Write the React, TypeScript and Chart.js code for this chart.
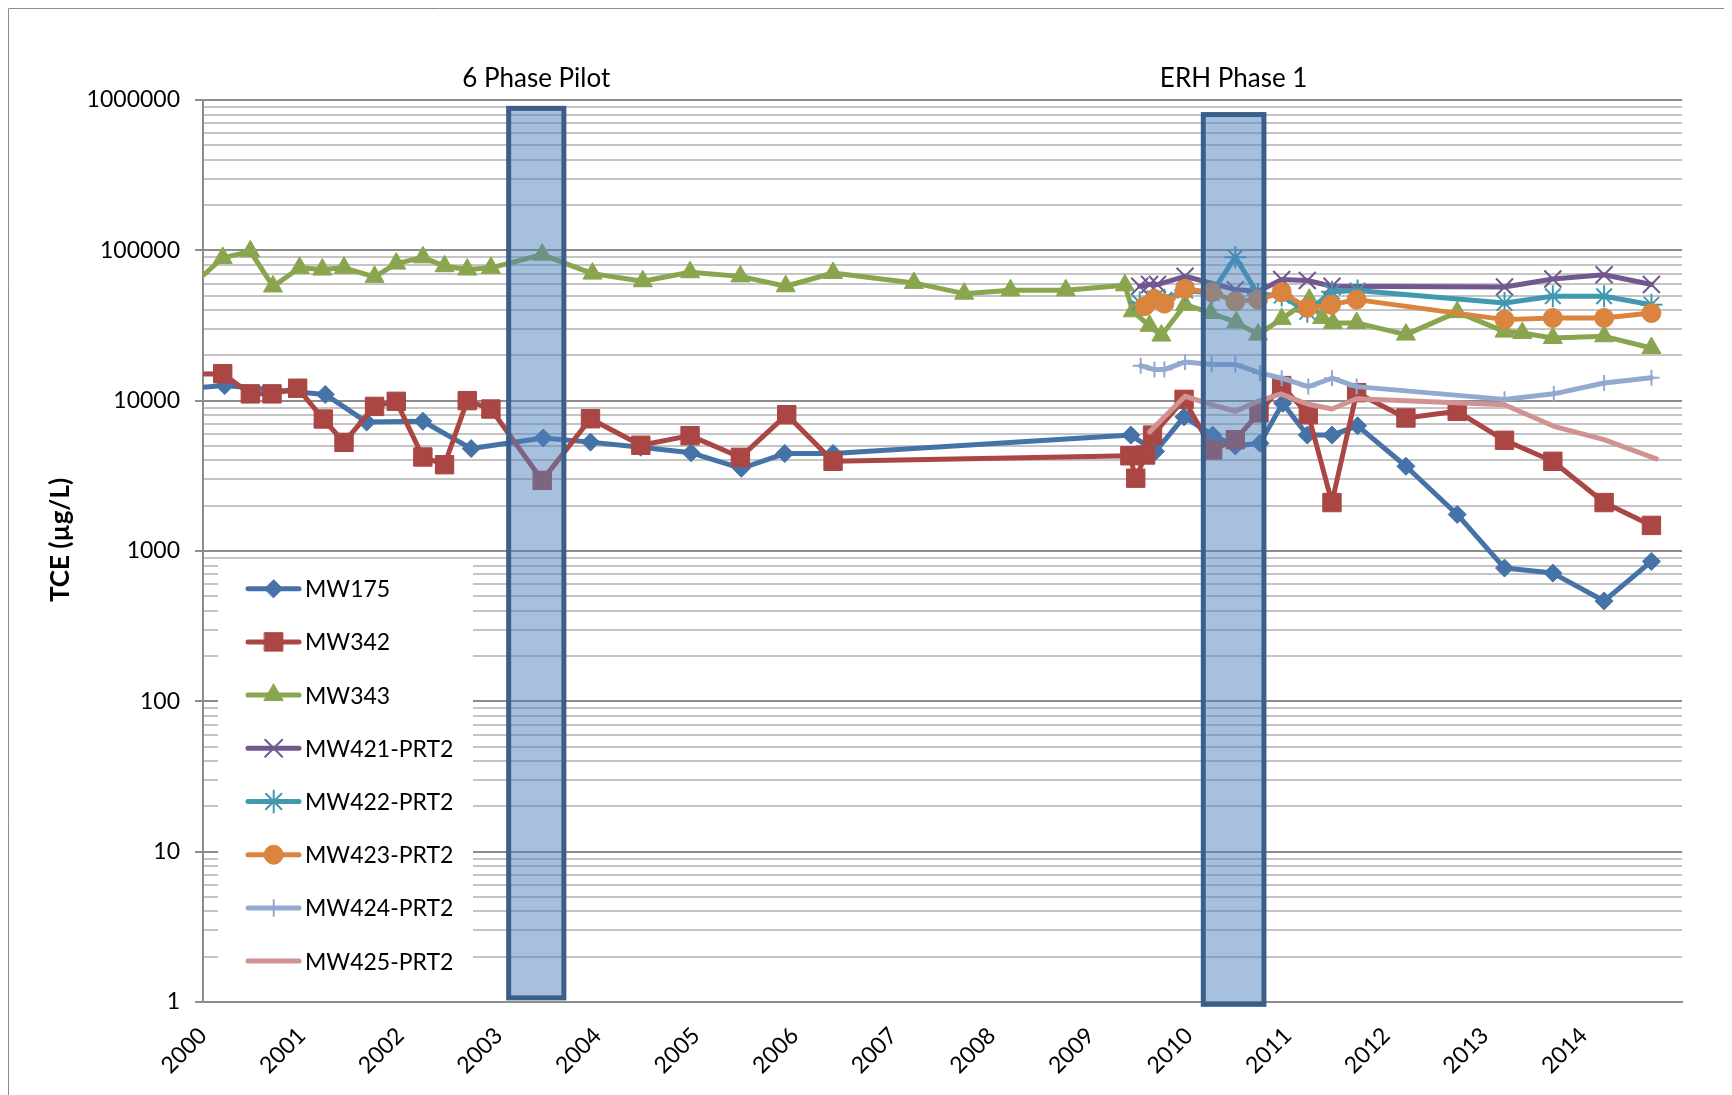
import React, { useEffect, useRef } from 'react';
import { Chart, registerables } from 'chart.js';
import { drawPoint } from 'chart.js/helpers';

Chart.register(...registerables);

// ---------- DATA ----------
const SERIES_NAMES = ['MW175', 'MW342', 'MW343', 'MW421-PRT2', 'MW422-PRT2', 'MW423-PRT2', 'MW424-PRT2', 'MW425-PRT2'];

const MW175_DATES = [1999.8, 2000.22, 2001.24, 2001.66, 2002.23, 2002.72, 2003.45, 2003.93, 2004.44, 2004.95, 2005.46, 2005.9, 2006.39, 2009.41, 2009.66, 2009.95, 2010.24, 2010.47, 2010.72, 2010.95, 2011.2, 2011.45, 2011.71, 2012.2, 2012.72, 2013.2, 2013.69, 2014.21, 2014.69];
const MW175_VALUES = [12000, 12600, 11000, 7200, 7300, 4800, 5650, 5300, 4900, 4500, 3550, 4450, 4450, 5900, 4600, 7800, 5900, 5000, 5200, 9600, 5900, 5900, 6800, 3660, 1750, 770, 713, 465, 853];

const MW342_DATES = [1999.8, 2000.2, 2000.48, 2000.7, 2000.96, 2001.22, 2001.43, 2001.74, 2001.96, 2002.23, 2002.45, 2002.68, 2002.92, 2003.44, 2003.93, 2004.44, 2004.94, 2005.45, 2005.92, 2006.39, 2009.4, 2009.46, 2009.56, 2009.63, 2009.95, 2010.24, 2010.47, 2010.71, 2010.94, 2011.21, 2011.45, 2011.7, 2012.2, 2012.72, 2013.2, 2013.69, 2014.21, 2014.69];
const MW342_VALUES = [15000, 15100, 11100, 11100, 12100, 7550, 5280, 9160, 9900, 4220, 3750, 10000, 8800, 2950, 7580, 5050, 5850, 4200, 8070, 3950, 4300, 3050, 4350, 5900, 10200, 4700, 5500, 8300, 12600, 8070, 2100, 11300, 7670, 8490, 5450, 3950, 2100, 1480];

const MW343_DATES = [1999.8, 2000.2, 2000.48, 2000.71, 2000.98, 2001.21, 2001.43, 2001.74, 2001.96, 2002.23, 2002.45, 2002.68, 2002.92, 2003.44, 2003.95, 2004.46, 2004.94, 2005.45, 2005.91, 2006.39, 2007.21, 2007.72, 2008.19, 2008.75, 2009.35, 2009.43, 2009.6, 2009.72, 2009.96, 2010.22, 2010.48, 2010.7, 2010.94, 2011.22, 2011.35, 2011.46, 2011.7, 2012.2, 2012.72, 2013.2, 2013.38, 2013.69, 2014.21, 2014.69];
const MW343_VALUES = [52000, 89000, 98500, 57500, 76500, 74500, 76500, 66600, 81600, 89800, 78400, 74500, 76500, 93600, 70000, 62300, 71500, 67100, 57700, 70700, 60700, 51500, 54200, 54200, 58500, 39300, 31500, 27100, 43500, 38300, 33200, 27500, 35000, 47000, 35500, 32900, 32900, 27500, 38800, 28800, 28200, 26100, 26800, 22400];

const MW421_DATES = [2009.5, 2009.6, 2009.68, 2009.96, 2010.47, 2010.7, 2010.94, 2011.2, 2011.45, 2013.2, 2013.69, 2014.21, 2014.69];
const MW421_VALUES = [57700, 59200, 59200, 67200, 54800, 53300, 64000, 63000, 57700, 57000, 64400, 68800, 59200];

const MW422_DATES = [2009.5, 2009.65, 2009.75, 2009.96, 2010.23, 2010.47, 2010.7, 2010.94, 2011.2, 2011.45, 2011.71, 2013.2, 2013.69, 2014.21, 2014.69];
const MW422_VALUES = [45000, 48000, 47000, 54000, 52000, 90000, 51000, 50000, 39000, 53000, 54000, 44700, 49500, 49500, 43500];

const MW423_DATES = [2009.55, 2009.65, 2009.75, 2009.96, 2010.23, 2010.47, 2010.7, 2010.94, 2011.2, 2011.44, 2011.7, 2013.2, 2013.69, 2014.21, 2014.69];
const MW423_VALUES = [42500, 47500, 44200, 55300, 52600, 45800, 47000, 52600, 41400, 43500, 47000, 34600, 35500, 35500, 38300];

const MW424_DATES = [2009.51, 2009.65, 2009.75, 2009.96, 2010.23, 2010.47, 2010.72, 2010.94, 2011.21, 2011.45, 2011.7, 2013.2, 2013.7, 2014.21, 2014.69];
const MW424_VALUES = [17100, 16100, 16100, 18100, 17400, 17400, 15300, 14100, 12400, 14100, 12400, 10200, 11100, 13100, 14200];

const MW425_DATES = [2009.6, 2009.96, 2010.23, 2010.47, 2010.7, 2010.93, 2011.2, 2011.45, 2011.7, 2013.2, 2013.7, 2014.21, 2014.74];
const MW425_VALUES = [6200, 10700, 9400, 8500, 9900, 11100, 9500, 8800, 10300, 9400, 6750, 5500, 4100];

const SERIES_DATES = [MW175_DATES, MW342_DATES, MW343_DATES, MW421_DATES, MW422_DATES, MW423_DATES, MW424_DATES, MW425_DATES];
const SERIES_VALUES = [MW175_VALUES, MW342_VALUES, MW343_VALUES, MW421_VALUES, MW422_VALUES, MW423_VALUES, MW424_VALUES, MW425_VALUES];

const X_TICK_LABELS = ['2000', '2001', '2002', '2003', '2004', '2005', '2006', '2007', '2008', '2009', '2010', '2011', '2012', '2013', '2014'];
const Y_TICK_LABELS = ['1', '10', '100', '1000', '10000', '100000', '1000000'];

const PHASE_LABELS = ['6 Phase Pilot', 'ERH Phase 1'];
const PHASE_START = [2003.1, 2010.145];
const PHASE_END = [2003.66, 2010.76];
const PHASE_TOP = [880000, 800000];
const PHASE_BOTTOM = [1.065, 0.965];

const Y_TITLE = 'TCE (µg/L)';

// ---------- STYLES ----------
const SERIES_COLORS = ['#4572A7', '#AA4643', '#89A54E', '#71588F', '#4198AF', '#DB843D', '#93A9CF', '#D19392'];
const SERIES_MARKERS: (string | false)[] = ['rectRot', 'rect', 'triangle', 'crossRot', 'star', 'circle', 'cross', false];
const MARKER_RADII = [9, 13, 11, 12, 11, 9.5, 8, 0];
const MARKER_BORDER = [1, 1, 1, 2, 2, 1, 2, 0];
const FONT = 'Lato, "Open Sans", sans-serif';

const W = 1724;
const H = 1087;

const isDecade = (v: number) => {
  const l = Math.log10(v);
  return Math.abs(l - Math.round(l)) < 1e-9;
};

const overlayPlugin = {
  id: 'overlay',
  afterDatasetsDraw(chart: any) {
    const { ctx, chartArea } = chart;
    const xs = chart.scales.x;
    const ys = chart.scales.y;
    ctx.save();
    // phase rectangles
    for (let i = 0; i < PHASE_LABELS.length; i++) {
      const x0 = xs.getPixelForValue(PHASE_START[i]);
      const x1 = xs.getPixelForValue(PHASE_END[i]);
      const y0 = ys.getPixelForValue(PHASE_TOP[i]);
      const y1 = ys.getPixelForValue(PHASE_BOTTOM[i]);
      ctx.fillStyle = 'rgba(79,129,189,0.5)';
      ctx.fillRect(x0, y0, x1 - x0, y1 - y0);
      ctx.strokeStyle = '#3A5F8B';
      ctx.lineWidth = 5;
      ctx.strokeRect(x0, y0, x1 - x0, y1 - y0);
      ctx.fillStyle = '#000';
      ctx.font = `26px ${FONT}`;
      ctx.textAlign = 'center';
      ctx.textBaseline = 'middle';
      ctx.fillText(PHASE_LABELS[i], (x0 + x1) / 2, chartArea.top - 21);
    }
    // legend
    const lx0 = 210, lx1 = 465, ly0 = 553, ly1 = 987;
    ctx.fillStyle = '#fff';
    ctx.fillRect(lx0, ly0, lx1 - lx0, ly1 - ly0);
    for (let i = 0; i < SERIES_NAMES.length; i++) {
      const cy = 580.7 + 53.2 * i;
      const color = SERIES_COLORS[i];
      ctx.strokeStyle = color;
      ctx.lineWidth = 5;
      ctx.lineCap = 'round';
      ctx.beginPath();
      ctx.moveTo(240, cy);
      ctx.lineTo(291, cy);
      ctx.stroke();
      const ps = SERIES_MARKERS[i];
      if (ps) {
        ctx.fillStyle = color;
        ctx.strokeStyle = color;
        ctx.lineWidth = MARKER_BORDER[i];
        drawPoint(ctx, { pointStyle: ps, radius: MARKER_RADII[i], rotation: 0, borderWidth: MARKER_BORDER[i] }, 265.7, cy);
      }
      ctx.fillStyle = '#000';
      ctx.font = `23px ${FONT}`;
      ctx.textAlign = 'left';
      ctx.textBaseline = 'middle';
      ctx.fillText(SERIES_NAMES[i], 297, cy + 1);
    }
    // y axis title
    ctx.save();
    ctx.translate(53, 532);
    ctx.rotate(-Math.PI / 2);
    ctx.fillStyle = '#000';
    ctx.font = `bold 26px ${FONT}`;
    ctx.textAlign = 'center';
    ctx.textBaseline = 'middle';
    ctx.fillText(Y_TITLE, 0, 0);
    ctx.restore();
    // outer chart border
    ctx.strokeStyle = '#8C8C8C';
    ctx.lineWidth = 1;
    ctx.beginPath();
    ctx.moveTo(0.5, H);
    ctx.lineTo(0.5, 0.5);
    ctx.lineTo(W, 0.5);
    ctx.stroke();
    ctx.restore();
  },
};

export default function App() {
  const ref = useRef<HTMLCanvasElement | null>(null);
  useEffect(() => {
    if (!ref.current) return;
    const n = SERIES_NAMES.length;
    const datasets = SERIES_NAMES.map((name, i) => ({
      label: name,
      data: SERIES_DATES[i].map((d, j) => ({ x: d, y: SERIES_VALUES[i][j] })),
      borderColor: SERIES_COLORS[i],
      backgroundColor: SERIES_COLORS[i],
      borderWidth: 5,
      borderJoinStyle: 'round' as const,
      borderCapStyle: 'round' as const,
      tension: 0,
      fill: false,
      pointStyle: SERIES_MARKERS[i] || 'circle',
      pointRadius: SERIES_MARKERS[i] ? MARKER_RADII[i] : 0,
      pointBorderWidth: MARKER_BORDER[i],
      pointBackgroundColor: SERIES_COLORS[i],
      pointBorderColor: SERIES_COLORS[i],
      order: n - 1 - i,
    }));
    const chart = new Chart(ref.current, {
      type: 'line',
      data: { datasets },
      plugins: [overlayPlugin],
      options: {
        responsive: false,
        animation: false,
        devicePixelRatio: 1,
        layout: { padding: { left: 0, right: 50, top: 92, bottom: 0 } },
        plugins: { legend: { display: false }, tooltip: { enabled: false } },
        scales: {
          x: {
            type: 'linear',
            min: 2000,
            max: 2015,
            afterFit: (s: any) => { s.height = 93; },
            grid: { display: false },
            border: { display: true, color: '#8C8C8C', width: 2 },
            ticks: {
              stepSize: 1,
              autoSkip: false,
              minRotation: 45,
              maxRotation: 45,
              padding: 12,
              color: '#000',
              font: { family: FONT, size: 23 },
              callback: (v: any) => X_TICK_LABELS[Math.round(Number(v)) - 2000] ?? '',
            },
          },
          y: {
            type: 'logarithmic',
            min: 1,
            max: 1000000,
            afterFit: (s: any) => { s.width = 195; },
            afterBuildTicks: (s: any) => {
              const t: any[] = [];
              for (let e = 0; e < 6; e++) {
                for (let m = 1; m < 10; m++) t.push({ value: m * Math.pow(10, e), major: m === 1 });
              }
              t.push({ value: 1000000, major: true });
              s.ticks = t;
            },
            grid: {
              display: true,
              drawTicks: true,
              tickLength: 8,
              lineWidth: 2,
              color: (c: any) => (c.tick && isDecade(c.tick.value) ? '#8C8C8C' : '#C4C4C4'),
              tickColor: (c: any) => (c.tick && isDecade(c.tick.value) ? '#8C8C8C' : 'rgba(0,0,0,0)'),
              tickWidth: 2,
            },
            border: { display: true, color: '#8C8C8C', width: 2 },
            ticks: {
              autoSkip: false,
              padding: 15,
              color: '#000',
              font: { family: FONT, size: 23 },
              callback: (v: any) => {
                const val = Number(v);
                if (!isDecade(val)) return '';
                return Y_TICK_LABELS[Math.round(Math.log10(val))] ?? '';
              },
            },
          },
        },
      },
    });
    return () => chart.destroy();
  }, []);
  return (
    <div style={{ width: W, height: H }}>
      <canvas ref={ref} width={W} height={H} style={{ display: 'block', width: W, height: H }} />
    </div>
  );
}
